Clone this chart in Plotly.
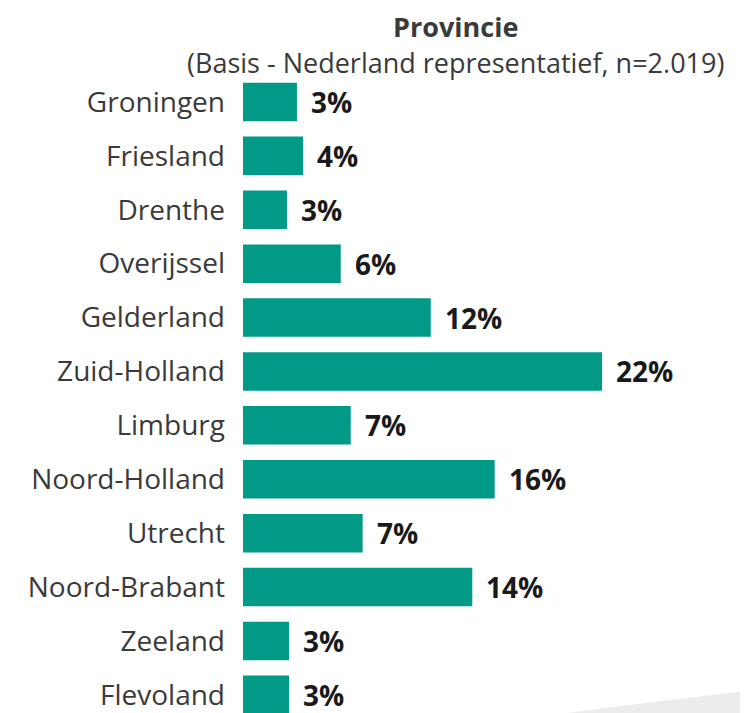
import plotly.graph_objects as go

provinces = ["Groningen", "Friesland", "Drenthe", "Overijssel", "Gelderland", "Zuid-Holland",
             "Limburg", "Noord-Holland", "Utrecht", "Noord-Brabant", "Zeeland", "Flevoland"]
values = [3.35, 3.73, 2.73, 6.07, 11.66, 22.3, 6.69, 15.63, 7.43, 14.24, 2.86, 2.86]
labels = ["3%", "4%", "3%", "6%", "12%", "22%", "7%", "16%", "7%", "14%", "3%", "3%"]

title_text = "<b>Provincie</b>"
subtitle_text = "(Basis - Nederland representatief, n=2.019)"

BAR = "#009A87"
FONT = "Open Sans"

fig = go.Figure()
fig.add_trace(go.Bar(
    x=values, y=provinces, orientation="h",
    marker=dict(color=BAR, line=dict(width=0)),
    width=0.715, hoverinfo="skip",
))

for p, v, t in zip(provinces, values, labels):
    fig.add_annotation(x=v, y=p, text="<b>%s</b>" % t, xanchor="left", yanchor="middle",
                       xshift=12, showarrow=False,
                       font=dict(family=FONT, size=28, color="#1a1a1a"))

fig.add_annotation(xref="paper", yref="paper", x=0.4133, y=1.0745, text=title_text,
                   showarrow=False, xanchor="center", yanchor="middle",
                   font=dict(family=FONT, size=27, color="#3a3a3a"))
fig.add_annotation(xref="paper", yref="paper", x=0.4133, y=1.0195, text=subtitle_text,
                   showarrow=False, xanchor="center", yanchor="middle",
                   font=dict(family=FONT, size=27, color="#3a3a3a"))

# faint decorative swoosh bottom right
fig.add_shape(type="path", xref="paper", yref="paper", layer="below",
              path="M 0.63 0.012 Q 0.8 0.03 1.0 0.048 L 1.0 0 L 0.63 0 Z",
              fillcolor="rgba(228,228,228,0.7)", line=dict(width=0))

fig.update_layout(
    width=748, height=713,
    margin=dict(l=235, r=0, t=67, b=0, pad=0),
    plot_bgcolor="white", paper_bgcolor="white",
    showlegend=False,
    xaxis=dict(range=[0, 31.86], visible=False, fixedrange=True, automargin=False),
    yaxis=dict(categoryorder="array", categoryarray=provinces, range=[11.485, -0.5],
               showgrid=False, zeroline=False, showline=False, ticks="",
               automargin=False, ticklabelstandoff=17,
               tickfont=dict(family=FONT, size=28, color="#3a3a3a")),
)

fig.write_html("out.html")
